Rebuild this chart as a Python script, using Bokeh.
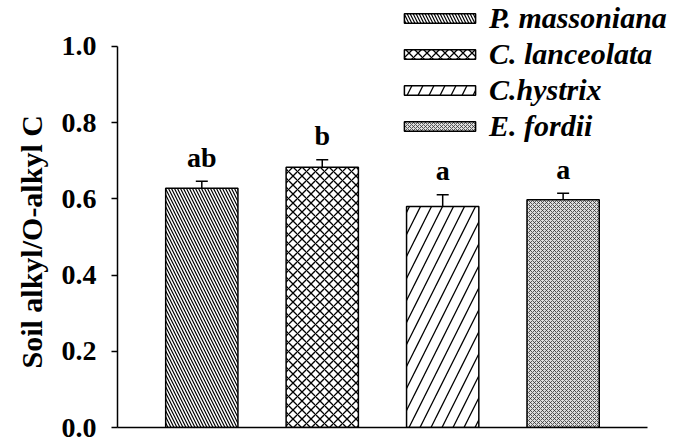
from bokeh.plotting import figure
from bokeh.models import Range1d, ColumnDataSource, Legend, LegendItem, Whisker, FixedTicker, NumeralTickFormatter, TeeHead, Title
from bokeh.core.properties import value
from bokeh.embed import file_html
from bokeh.resources import INLINE

species = ["P. massoniana", "C. lanceolata", "C.hystrix", "E. fordii"]
positions = [1, 2, 3, 4]
means = [0.628, 0.683, 0.580, 0.598]
errors = [0.018, 0.020, 0.031, 0.017]
letters = ["ab", "b", "a", "a"]
y_ticks = [0.0, 0.2, 0.4, 0.6, 0.8, 1.0]

FONT = "Liberation Serif"

p = figure(width=675, height=446, output_backend="svg", toolbar_location=None,
           x_range=Range1d(0.3, 4.933), y_range=Range1d(0, 1.1207),
           min_border_left=117, min_border_right=0, min_border_top=0, min_border_bottom=19)
p.outline_line_color = None
p.xgrid.visible = False
p.ygrid.visible = False

hatches = [
    dict(hatch_pattern="left_diagonal_line", hatch_scale=6, hatch_weight=1.2, hatch_color="black", fill_color="white"),
    dict(hatch_pattern="diagonal_cross", hatch_scale=9, hatch_weight=1.3, hatch_color="black", fill_color="white"),
    dict(hatch_pattern="right_diagonal_line", hatch_scale=22, hatch_weight=1.3, hatch_color="black", fill_color="white"),
    dict(hatch_pattern="diagonal_cross", hatch_scale=4, hatch_weight=0.8, hatch_color="#333333", fill_color="#dddddd"),
]

items = []
for i in range(4):
    src = ColumnDataSource(dict(x=[positions[i]], top=[means[i]]))
    r = p.vbar(x="x", top="top", width=0.6, bottom=0, source=src,
               line_color="black", line_width=1.5, **hatches[i])
    items.append(LegendItem(label=species[i], renderers=[r]))

upper = [m + e for m, e in zip(means, errors)]
esrc = ColumnDataSource(dict(x=positions, base=means, upper=upper))
w = Whisker(base="x", lower="base", upper="upper", source=esrc, dimension="height",
            line_color="black", line_width=1.5,
            upper_head=TeeHead(size=12, line_width=1.5, line_color="black"), lower_head=None)
p.add_layout(w)

tsrc = ColumnDataSource(dict(x=positions, y=upper, t=letters))
p.text(x="x", y="y", text="t", source=tsrc, text_align="center", text_baseline="alphabetic",
       y_offset=-24, text_font=value(FONT), text_font_style="bold", text_font_size="28px",
       text_color="black")

legend = Legend(items=items, location=(278, 284), glyph_width=89, glyph_height=12,
                label_text_font=FONT, label_text_font_style="bold italic",
                label_text_font_size="30px", label_text_color="black",
                label_standoff=5, spacing=2,
                padding=0, margin=0, border_line_color=None, background_fill_alpha=0,
                label_height=33)
p.add_layout(legend, "center")

ya = p.yaxis[0]
ya.ticker = FixedTicker(ticks=y_ticks)
ya.formatter = NumeralTickFormatter(format="0.0")
ya.bounds = (0, 1.0)
ya.axis_line_width = 1.5
ya.axis_line_color = "black"
ya.major_tick_line_width = 1.5
ya.major_tick_line_color = "black"
ya.major_tick_in = 0
ya.major_tick_out = 6
ya.minor_tick_line_color = None
ya.major_label_text_font = FONT
ya.major_label_text_font_style = "bold"
ya.major_label_text_font_size = "28px"
ya.major_label_text_color = "black"
ya.major_label_standoff = 15

ylabel = Title(text="Soil alkyl/O-alkyl C", align="left", offset=59,
               text_font=FONT, text_font_style="bold", text_font_size="30px",
               text_color="black", standoff=22)
p.add_layout(ylabel, "left")

xa = p.xaxis[0]
xa.ticker = FixedTicker(ticks=[])
xa.bounds = (0.3, 4.7)
xa.axis_line_width = 1.5
xa.axis_line_color = "black"
xa.major_tick_line_color = None
xa.minor_tick_line_color = None
xa.major_label_text_font_size = "0px"

open("out.html", "w").write(file_html(p, INLINE))
